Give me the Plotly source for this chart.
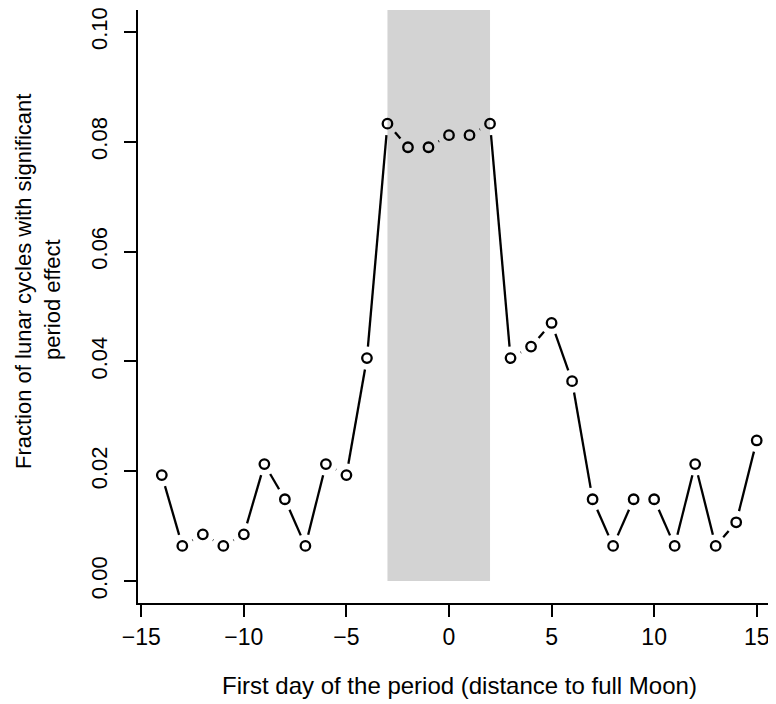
import math
import plotly.graph_objects as go

# ---- data ----
days = list(range(-14, 16))
fraction = [0.0193, 0.0064, 0.0085, 0.0064, 0.0085, 0.0213, 0.0149, 0.0064,
            0.0213, 0.0193, 0.0406, 0.0833, 0.0790, 0.0790, 0.0812, 0.0812,
            0.0833, 0.0406, 0.0427, 0.0470, 0.0364, 0.0149, 0.0064, 0.0149,
            0.0149, 0.0064, 0.0213, 0.0064, 0.0107, 0.0256]
shade_x = [-3, 2]
x_ticks = [-15, -10, -5, 0, 5, 10, 15]
y_ticks = [0.00, 0.02, 0.04, 0.06, 0.08, 0.10]
y_ticklabels = ["0.00", "0.02", "0.04", "0.06", "0.08", "0.10"]
x_label = "First day of the period (distance to full Moon)"
y_label_lines = ["Fraction of lunar cycles with significant", "period effect"]

# ---- layout geometry (page has an 8px body margin) ----
OFF = 8
W, H = 768, 696
ML, MR, MT, MB = 130, 0, 2, 101
xr = [-15.16, 15.94]
yr = [-0.004, 0.104]
pw = W - ML - MR
ph = H - MT - MB
sx = pw / (xr[1] - xr[0])
sy = ph / (yr[1] - yr[0])

# R type="b": line segments with a gap around each point
gap = 11.5
lx, ly = [], []
for i in range(len(days) - 1):
    x1, y1, x2, y2 = days[i], fraction[i], days[i + 1], fraction[i + 1]
    dxp, dyp = (x2 - x1) * sx, (y2 - y1) * sy
    L = math.hypot(dxp, dyp)
    if L <= 2 * gap:
        continue
    f = gap / L
    lx += [x1 + f * (x2 - x1), x2 - f * (x2 - x1), None]
    ly += [y1 + f * (y2 - y1), y2 - f * (y2 - y1), None]

FONT = "Liberation Sans, Arial, Helvetica, sans-serif"

fig = go.Figure()
fig.add_shape(type="rect", xref="x", yref="y", x0=shade_x[0], x1=shade_x[1],
              y0=0, y1=yr[1], fillcolor="#d3d3d3", line=dict(width=0), layer="below")
fig.add_trace(go.Scatter(x=lx, y=ly, mode="lines", line=dict(color="black", width=2.3),
                         hoverinfo="skip", showlegend=False))
fig.add_trace(go.Scatter(x=days, y=fraction, mode="markers",
                         marker=dict(symbol="circle-open", size=9.5, color="black",
                                     line=dict(width=2.3, color="black")),
                         showlegend=False))

fig.update_layout(
    width=W, height=H,
    margin=dict(l=ML, r=MR, t=MT, b=MB, pad=0),
    paper_bgcolor="white", plot_bgcolor="white",
    font=dict(family=FONT, size=24, color="black"),
    showlegend=False,
    xaxis=dict(range=xr, tickvals=x_ticks, ticks="outside", ticklen=12, tickwidth=2,
               tickcolor="black", showline=True, linecolor="black", linewidth=2,
               showgrid=False, zeroline=False, ticklabelstandoff=0,
               ticklabeloverflow="allow", tickfont=dict(size=23)),
    yaxis=dict(range=yr, tickvals=y_ticks, ticktext=y_ticklabels, tickangle=-90,
               ticks="outside", ticklen=12, tickwidth=2, tickcolor="black",
               showline=True, linecolor="black", linewidth=2, showgrid=False,
               zeroline=False, ticklabelstandoff=8, ticklabeloverflow="allow",
               tickfont=dict(size=22)),
)

def px_x(p):
    return (p - OFF - ML) / pw

def px_y(p):
    return (H - MB - (p - OFF)) / ph

fig.add_annotation(text=x_label, xref="paper", yref="paper",
                   x=px_x(459), y=px_y(685), xanchor="center", yanchor="middle",
                   showarrow=False, font=dict(size=24))
fig.add_annotation(text=y_label_lines[0], xref="paper", yref="paper",
                   x=px_x(24), y=px_y(282), xanchor="center", yanchor="middle",
                   textangle=-90, showarrow=False, font=dict(size=22))
fig.add_annotation(text=y_label_lines[1], xref="paper", yref="paper",
                   x=px_x(52), y=px_y(300), xanchor="center", yanchor="middle",
                   textangle=-90, showarrow=False, font=dict(size=22))

fig.write_html("out.html")
